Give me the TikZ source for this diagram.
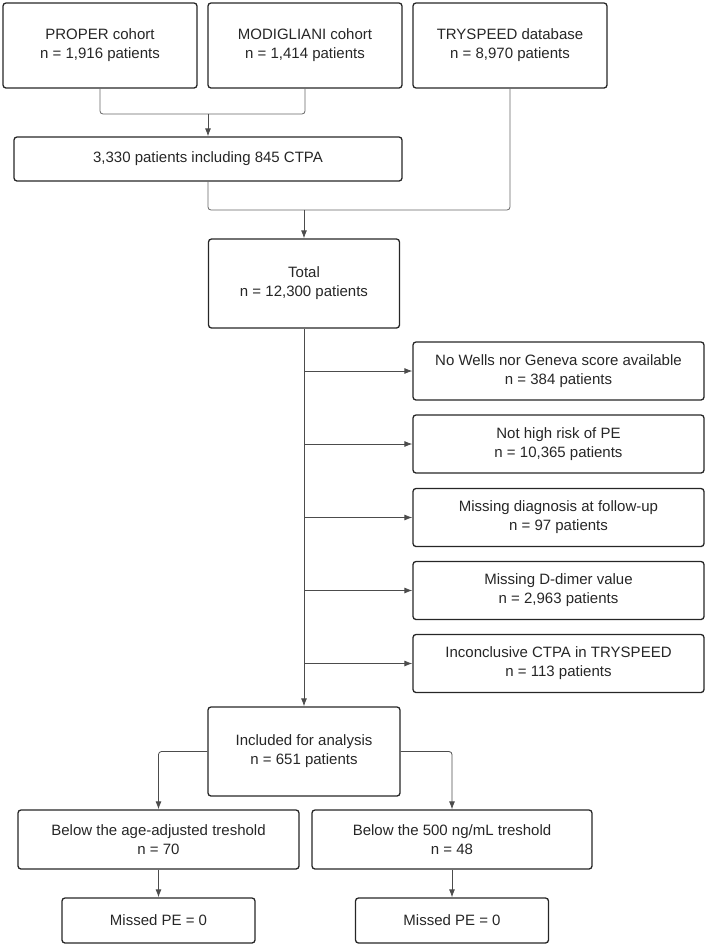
\documentclass[tikz,border=0pt]{standalone}
\usepackage{fontspec}
\setmainfont{Liberation Sans}
\usetikzlibrary{arrows.meta}
\begin{document}
\begin{tikzpicture}[x=1pt,y=-1pt,
  box/.style={draw=black!85,line width=1.3pt,rounded corners=3pt,align=center,inner sep=2pt,font=\fontsize{15}{19}\selectfont,text=black!85},
  ln/.style={draw=black!60,line width=0.8pt,rounded corners=3pt},
  ar/.style={ln,-{Latex[length=8pt,width=6pt]},draw=black!70}]
\useasboundingbox (0,0) rectangle (709,946);
\node[box,minimum width=194pt,minimum height=85pt] (p) at (100,45.5) {PROPER cohort\\n = 1,916 patients};
\node[box,minimum width=194pt,minimum height=85pt] (m) at (305,45.5) {MODIGLIANI cohort\\n = 1,414 patients};
\node[box,minimum width=194pt,minimum height=85pt] (t) at (510,45.5) {TRYSPEED database\\n = 8,970 patients};
\node[box,minimum width=388pt,minimum height=44pt] (c3) at (208,159) {3,330 patients including 845 CTPA};
\node[box,minimum width=191pt,minimum height=89pt] (tot) at (304,283.5) {Total\\n = 12,300 patients};
\node[box,minimum width=291pt,minimum height=58pt] (e1) at (558.5,371) {No Wells nor Geneva score available\\n = 384 patients};
\node[box,minimum width=291pt,minimum height=58pt] (e2) at (558.5,444) {Not high risk of PE\\n = 10,365 patients};
\node[box,minimum width=291pt,minimum height=58pt] (e3) at (558.5,517.5) {Missing diagnosis at follow-up\\n = 97 patients};
\node[box,minimum width=291pt,minimum height=58pt] (e4) at (558.5,590.5) {Missing D-dimer value\\n = 2,963 patients};
\node[box,minimum width=291pt,minimum height=58pt] (e5) at (558.5,663.5) {Inconclusive CTPA in TRYSPEED\\n = 113 patients};
\node[box,minimum width=192pt,minimum height=89pt] (inc) at (304,751.5) {Included for analysis\\n = 651 patients};
\node[box,minimum width=281pt,minimum height=59pt] (bl) at (158.5,839.5) {Below the age-adjusted treshold\\n = 70};
\node[box,minimum width=280pt,minimum height=59pt] (br) at (452,839.5) {Below the 500 ng/mL treshold\\n = 48};
\node[box,minimum width=193pt,minimum height=45pt] (ml) at (158.5,920.5) {Missed PE = 0};
\node[box,minimum width=193pt,minimum height=45pt] (mr) at (452,920.5) {Missed PE = 0};
\coordinate (j1) at (208,114);
\coordinate (j2) at (304,210);
\draw[ln] (p.south) |- (j1);
\draw[ln] (m.south) |- (j1);
\draw[ar] (j1) -- (c3.north);
\draw[ln] (c3.south) |- (j2);
\draw[ln] (t.south) |- (j2);
\draw[ar] (j2) -- (tot.north);
\draw[ar] (tot.south) -- (inc.north);
\foreach \e in {e1,e2,e3,e4,e5}{\draw[ar] (tot.south |- \e.west) -- (\e.west);}
\draw[ar] (inc.west) -| (bl.north);
\draw[ar] (inc.east) -| (br.north);
\draw[ar] (bl.south) -- (ml.north);
\draw[ar] (br.south) -- (mr.north);
\end{tikzpicture}
\end{document}
